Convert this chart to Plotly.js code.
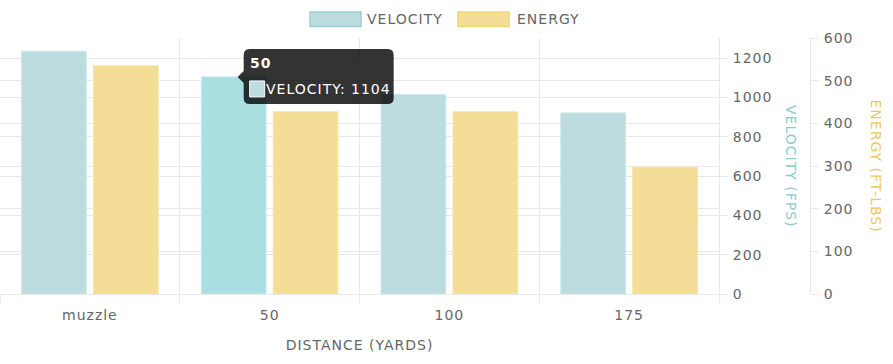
<!DOCTYPE html>
<html>
<head>
<meta charset="utf-8">
<script src="https://cdn.plot.ly/plotly-3.0.1.min.js"></script>
<style>
  html, body { margin: 0; padding: 0; background: #fff; }
  #chart { width: 893px; height: 364px; }
  .main-svg text { letter-spacing: 1px; }
</style>
</head>
<body>
<div id="chart"></div>
<script>
// ---- data ----
const categories = ['muzzle', '50', '100', '175'];
const velocity = [1235, 1104, 1015, 921];
const energy = [535, 427, 427, 297];
const seriesNames = ['VELOCITY', 'ENERGY'];
const axisTitles = ['VELOCITY (FPS)', 'ENERGY (FT-LBS)'];
const xTitle = 'DISTANCE (YARDS)';
const hoverIndex = 1;

// ---- styles ----
const FONT = 'DejaVu Sans, sans-serif';
const GRAY = '#666666';
const GRID = '#e8e8e8';
const FS = 14;
const velFill = 'rgb(189,220,223)';
const velHover = 'rgb(170,223,226)';
const velLine = 'rgb(205,230,232)';
const enFill = 'rgb(243,221,151)';
const enLine = 'rgb(246,229,170)';
const barW = 0.36;
const velOff = -0.38;
const enOff = 0.02;

const traces = [
  {
    type: 'bar', name: seriesNames[0], x: categories, y: velocity, yaxis: 'y',
    width: barW, offset: velOff,
    marker: { color: velocity.map((v, i) => i === hoverIndex ? velHover : velFill),
              line: { color: velLine, width: 1 } },
    hoverinfo: 'skip', showlegend: false
  },
  {
    type: 'bar', name: seriesNames[1], x: categories, y: energy, yaxis: 'y2',
    width: barW, offset: enOff,
    marker: { color: enFill, line: { color: enLine, width: 1 } },
    hoverinfo: 'skip', showlegend: false
  }
];

const W = 893, H = 364, mL = 0, mR = 83, mT = 38, mB = 70;
const plotW = W - mL - mR, plotH = H - mT - mB;
const px2x = p => (p - mL) / plotW;
const px2y = p => (H - mB - p) / plotH;

const tipX = hoverIndex + velOff + barW / 2;
const tipY = velocity[hoverIndex];

const shapes = [
  // legend swatches
  { type: 'rect', xref: 'paper', yref: 'paper', x0: px2x(310), x1: px2x(361), y0: px2y(26.5), y1: px2y(12),
    fillcolor: velFill, line: { color: 'rgb(160,206,210)', width: 1.5 } },
  { type: 'rect', xref: 'paper', yref: 'paper', x0: px2x(458), x1: px2x(509), y0: px2y(26.5), y1: px2y(12),
    fillcolor: enFill, line: { color: 'rgb(240,212,120)', width: 1.5 } },
  // tooltip box
  { type: 'path', xref: 'x', yref: 'y', xsizemode: 'pixel', ysizemode: 'pixel',
    xanchor: tipX, yanchor: tipY,
    path: 'M 16,28 L 154,28 Q 160,28 160,22 L 160,-21 Q 160,-27 154,-27 L 16,-27 Q 10,-27 10,-21 L 10,-6 L 4,0 L 10,6 L 10,22 Q 10,28 16,28 Z',
    fillcolor: 'rgba(0,0,0,0.8)', line: { width: 0 } },
  // tooltip swatch
  { type: 'rect', xref: 'x', yref: 'y', xsizemode: 'pixel', ysizemode: 'pixel',
    xanchor: tipX, yanchor: tipY, x0: 16, x1: 31, y0: -4, y1: -20,
    fillcolor: velFill, line: { color: '#ffffff', width: 1 } }
];

const annotations = [
  { xref: 'paper', yref: 'paper', x: px2x(369), y: px2y(19), xanchor: 'left', yanchor: 'middle',
    text: seriesNames[0], showarrow: false, font: { family: FONT, size: FS, color: GRAY } },
  { xref: 'paper', yref: 'paper', x: px2x(518), y: px2y(19), xanchor: 'left', yanchor: 'middle',
    text: seriesNames[1], showarrow: false, font: { family: FONT, size: FS, color: GRAY } },
  { xref: 'paper', yref: 'paper', x: px2x(791), y: 0.5, xanchor: 'center', yanchor: 'middle',
    text: axisTitles[0], textangle: 90, showarrow: false, font: { family: FONT, size: FS, color: 'rgb(140,202,204)' } },
  { xref: 'paper', yref: 'paper', x: px2x(876), y: 0.5, xanchor: 'center', yanchor: 'middle',
    text: axisTitles[1], textangle: 90, showarrow: false, font: { family: FONT, size: FS, color: 'rgb(240,200,85)' } },
  // tooltip texts
  { xref: 'x', yref: 'y', x: tipX, y: tipY, xanchor: 'left', yanchor: 'middle', xshift: 15, yshift: 14,
    text: '<b>' + categories[hoverIndex] + '</b>', showarrow: false, font: { family: FONT, size: FS, color: '#ffffff' } },
  { xref: 'x', yref: 'y', x: tipX, y: tipY, xanchor: 'left', yanchor: 'middle', xshift: 37, yshift: -12,
    text: seriesNames[0] + ': ' + velocity[hoverIndex], showarrow: false, font: { family: FONT, size: FS, color: '#ffffff' } }
];

const layout = {
  width: W, height: H,
  margin: { l: mL, r: mR, t: mT, b: mB, pad: 0 },
  paper_bgcolor: '#ffffff', plot_bgcolor: '#ffffff',
  font: { family: FONT, size: FS, color: GRAY },
  showlegend: false,
  barmode: 'overlay',
  xaxis: {
    type: 'category', categoryorder: 'array', categoryarray: categories,
    domain: [0, (719 - mL) / plotW], range: [-0.5, 3.5],
    tickson: 'boundaries', ticks: 'outside', ticklen: 8, tickcolor: GRID,
    showgrid: true, gridcolor: GRID, showline: true, linecolor: GRID, zeroline: false,
    tickfont: { family: FONT, size: FS, color: GRAY }, ticklabelstandoff: 8,
    title: { text: xTitle, font: { family: FONT, size: FS, color: GRAY }, standoff: 18 },
    fixedrange: true
  },
  yaxis: {
    side: 'right', anchor: 'x', range: [0, 1302], dtick: 200, tick0: 0,
    ticks: 'outside', ticklen: 8, tickcolor: GRID,
    showgrid: true, gridcolor: GRID, showline: true, linecolor: GRID, zeroline: false,
    tickfont: { family: FONT, size: FS, color: GRAY }, ticklabelstandoff: 2,
    fixedrange: true
  },
  yaxis2: {
    overlaying: 'y', side: 'right', anchor: 'free', position: 1,
    range: [0, 600], dtick: 100, tick0: 0,
    ticks: 'outside', ticklen: 8, tickcolor: GRID,
    showgrid: true, gridcolor: GRID, showline: true, linecolor: GRID, zeroline: false,
    tickfont: { family: FONT, size: FS, color: GRAY }, ticklabelstandoff: 2,
    fixedrange: true
  },
  shapes: shapes,
  annotations: annotations
};

Plotly.newPlot('chart', traces, layout, { displayModeBar: false, staticPlot: true });
</script>
</body>
</html>
